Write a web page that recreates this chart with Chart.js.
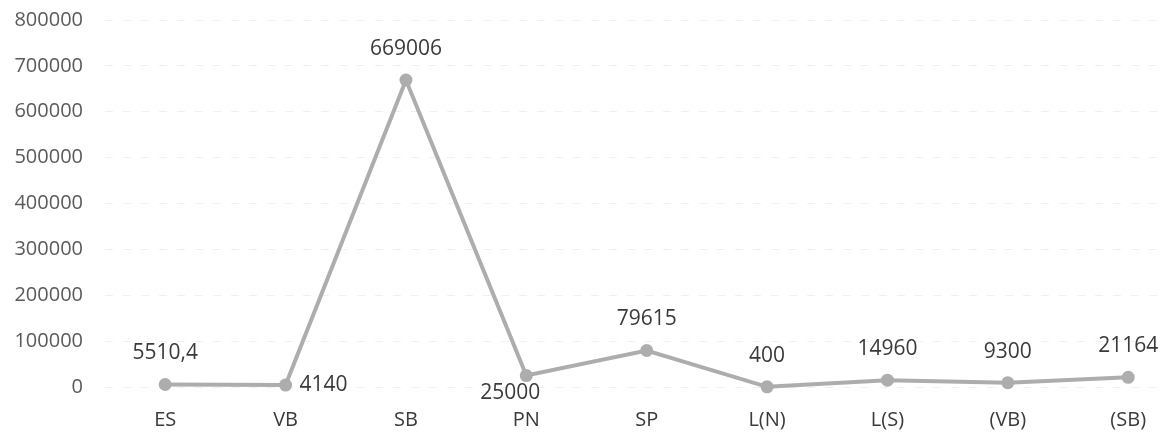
<!DOCTYPE html>
<html>
<head>
<meta charset="utf-8">
<script src="https://cdn.jsdelivr.net/npm/chart.js@4.4.1/dist/chart.umd.min.js"></script>
<style>
  html, body { margin: 0; padding: 0; background: #fff; }
  #wrap { width: 1172px; height: 438px; }
</style>
</head>
<body>
<div id="wrap"><canvas id="lineChart"></canvas></div>
<script>
const categories = ["ES", "VB", "SB", "PN", "SP", "L(N)", "L(S)", "(VB)", "(SB)"];
const values = [5510.4, 4140, 669006, 25000, 79615, 400, 14960, 9300, 21164];
const yTicks = [0, 100000, 200000, 300000, 400000, 500000, 600000, 700000, 800000];

// where each value label sits relative to its point
const labelPlacement = ["top", "right", "top", "bottom", "top", "top", "top", "top", "top"];

const chartColors = {
  line: "#adadad",
  text: "#3a3a3a",
  tick: "#5a5a5a",
  grid: "rgba(0, 0, 0, 0.06)",
};

function formatValue(v) {
  return String(v).replace(".", ",");
}

const valueLabels = {
  id: "valueLabels",
  afterDatasetsDraw(chart) {
    const ctx = chart.ctx;
    const meta = chart.getDatasetMeta(0);
    ctx.save();
    ctx.font = "21px 'Open Sans'";
    ctx.fillStyle = chartColors.text;
    ctx.textBaseline = "middle";
    meta.data.forEach((pt, i) => {
      const text = formatValue(values[i]);
      const place = labelPlacement[i];
      if (place === "right") {
        ctx.textAlign = "left";
        ctx.fillText(text, pt.x + 14, pt.y);
      } else if (place === "bottom") {
        ctx.textAlign = "center";
        ctx.fillText(text, pt.x - 16, pt.y + 17);
      } else {
        ctx.textAlign = "center";
        ctx.fillText(text, pt.x, pt.y - 31);
      }
    });
    ctx.restore();
  },
};

const ctx = document.getElementById("lineChart").getContext("2d");
Chart.defaults.font.family = "'Open Sans', 'Noto Sans', sans-serif";

new Chart(ctx, {
  type: "line",
  data: {
    datasets: [
      {
        data: values.map((v, i) => ({ x: i, y: v })),
        borderColor: chartColors.line,
        backgroundColor: chartColors.line,
        borderWidth: 4,
        pointRadius: 6.5,
        pointHoverRadius: 6.5,
        pointBackgroundColor: chartColors.line,
        pointBorderWidth: 0,
        tension: 0,
        clip: false,
      },
    ],
  },
  options: {
    responsive: true,
    maintainAspectRatio: false,
    animation: false,
    layout: { padding: { top: 20, right: 0, bottom: 6, left: 0 } },
    plugins: {
      legend: { display: false },
      tooltip: { enabled: false },
    },
    scales: {
      x: {
        type: "linear",
        min: -0.5,
        max: 8.31,
        afterBuildTicks: (scale) => {
          scale.ticks = categories.map((c, i) => ({ value: i }));
        },
        afterFit: (scale) => {
          scale.height = 45;
        },
        ticks: {
          autoSkip: false,
          maxRotation: 0,
          padding: 21,
          color: chartColors.text,
          font: { size: 20 },
          callback: (v) => categories[v],
        },
        grid: { display: false, drawTicks: false },
        border: { display: false },
      },
      y: {
        min: 0,
        max: 800000,
        afterBuildTicks: (scale) => {
          scale.ticks = yTicks.map((v) => ({ value: v }));
        },
        afterFit: (scale) => {
          scale.width = 105;
          scale.paddingTop = 0;
          scale.paddingBottom = 0;
        },
        ticks: {
          padding: 22,
          color: chartColors.tick,
          font: { size: 20 },
          callback: (v) => String(v),
        },
        grid: { color: chartColors.grid, drawTicks: false, lineWidth: 1 },
        border: { display: false, dash: [8, 10] },
      },
    },
  },
  plugins: [valueLabels],
});
</script>
</body>
</html>
